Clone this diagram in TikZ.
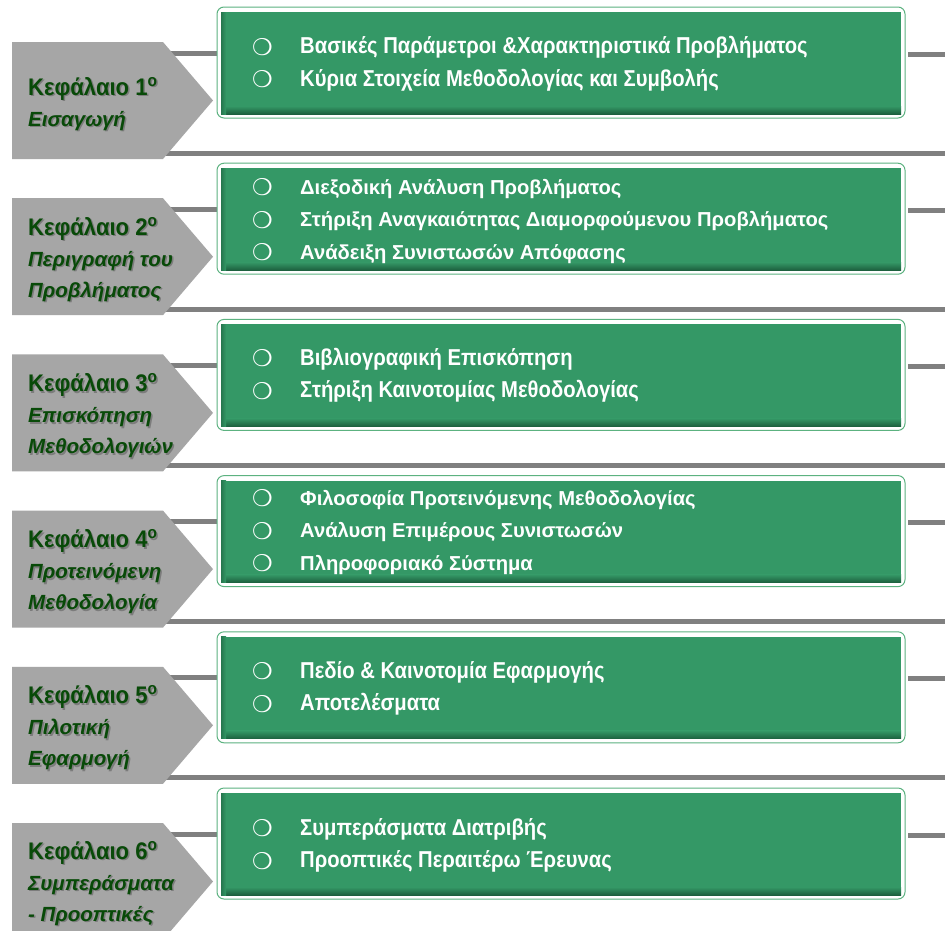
\documentclass[tikz,border=0pt]{standalone}
\usepackage{fontspec}
\setmainfont{Liberation Sans}
\newfontfamily\symfont{DejaVu Sans}
\newfontfamily\narrowfont[FakeStretch=0.88]{Liberation Sans}
\newfontfamily\headfont[FakeStretch=0.92]{Liberation Sans}
\usetikzlibrary{calc}

\definecolor{boxgreen}{RGB}{52,152,102}
\definecolor{boxdark}{RGB}{28,96,62}
\definecolor{boxrim}{RGB}{92,178,128}
\definecolor{tabgrey}{RGB}{166,166,166}
\definecolor{linegrey}{RGB}{128,128,128}
\definecolor{titlegreen}{RGB}{8,74,8}

\tikzset{
  rule/.style={draw=linegrey, line width=5pt},
  tab/.style={fill=tabgrey, draw=none},
  chaptext/.style={anchor=west, inner sep=0pt, text=titlegreen},
  chapshadow/.style={anchor=west, inner sep=0pt, text=black, opacity=0.25},
  itemtext/.style={anchor=west, inner sep=0pt, text=white},
}

% bullet followed by its gap
\newcommand\bul{\makebox[48pt][l]{\raisebox{-1.5pt}{\symfont\fontsize{23}{23}\selectfont ❍}}}
% chapter heading: number line, then the subtitle lines in italics
\newcommand\chaphead[2]{%
  \fontsize{20.5}{31}\selectfont\bfseries\itshape
  \begin{tabular}{@{}l@{}}
  \headfont\fontsize{24}{31}\selectfont\bfseries\upshape Κεφάλαιο #1\textsuperscript{ο}\\
  #2
  \end{tabular}}
% heading drawn twice, a faint offset copy underneath as its shadow
\newcommand\chapnode[4]{%
  \node[chapshadow] at (29.5,#2+1.5) {\chaphead{#3}{#4}};
  \node[chaptext] (#1) at (28,#2) {\chaphead{#3}{#4}};}
\newcommand\itemfont{\fontsize{20.2}{32.5}\selectfont\bfseries}
\newcommand\tallfont{\fontsize{23}{32.5}\selectfont\bfseries\narrowfont}

\begin{document}
\begin{tikzpicture}[x=1pt,y=-1pt]
\useasboundingbox (0,0) rectangle (945,930);
\fill[white] (0,0) rectangle (945,930);

% rows: grey tab, connecting rules and the green panel
\foreach \k in {0,...,5}{
  \pgfmathsetmacro\oy{156.2*\k}
  \begin{scope}[yshift=-\oy pt]
    % long rule below the row
    \draw[rule] (150,153) -- (945,153);
    % short rules either side of the panel
    \draw[rule] (150,53) -- (218,53);
    \draw[rule] (908,54) -- (945,54);
    % tab arrow
    \fill[tab] (12,42) -- (163,42) -- (213,100.5) -- (163,159) -- (12,159) -- cycle;
    % panel: rim, white margin, green face with darker lower edge
    \draw[boxrim, fill=white, line width=1pt, rounded corners=7pt] (217,7) rectangle (905,118);
    \fill[boxgreen] (221,12) rectangle (901,114);
    \shade[top color=boxgreen, bottom color=boxdark] (221,106) rectangle (901,114);
    \shade[left color=boxdark!60!boxgreen, right color=boxgreen] (221,12) rectangle (226,114);
  \end{scope}
}

% chapter headings
\chapnode{chap1}{104.5}{1}{Εισαγωγή}
\chapnode{chap2}{260}{2}{Περιγραφή του\\Προβλήματος}
\chapnode{chap3}{416.5}{3}{Επισκόπηση\\Μεθοδολογιών}
\chapnode{chap4}{572.5}{4}{Προτεινόμενη\\Μεθοδολογία}
\chapnode{chap5}{728.5}{5}{Πιλοτική\\Εφαρμογή}
\chapnode{chap6}{884}{6}{Συμπεράσματα\\- Προοπτικές}

% panel contents
\node[itemtext] (items1) at (252,63.5) {\tallfont
  \begin{tabular}{@{}l@{}}
  \bul Βασικές Παράμετροι \&Χαρακτηριστικά Προβλήματος\\
  \bul Κύρια Στοιχεία Μεθοδολογίας και Συμβολής
  \end{tabular}};
\node[itemtext] (items2) at (252,220) {\itemfont
  \begin{tabular}{@{}l@{}}
  \bul Διεξοδική Ανάλυση Προβλήματος\\
  \bul Στήριξη Αναγκαιότητας Διαμορφούμενου Προβλήματος\\
  \bul Ανάδειξη Συνιστωσών Απόφασης
  \end{tabular}};
\node[itemtext] (items3) at (252,375) {\tallfont
  \begin{tabular}{@{}l@{}}
  \bul Βιβλιογραφική Επισκόπηση\\
  \bul Στήριξη Καινοτομίας Μεθοδολογίας
  \end{tabular}};
\node[itemtext] (items4) at (252,531) {\itemfont
  \begin{tabular}{@{}l@{}}
  \bul Φιλοσοφία Προτεινόμενης Μεθοδολογίας\\
  \bul Ανάλυση Επιμέρους Συνιστωσών\\
  \bul Πληροφοριακό Σύστημα
  \end{tabular}};
\node[itemtext] (items5) at (252,688) {\tallfont
  \begin{tabular}{@{}l@{}}
  \bul Πεδίο \& Καινοτομία Εφαρμογής\\
  \bul Αποτελέσματα
  \end{tabular}};
\node[itemtext] (items6) at (252,845) {\tallfont
  \begin{tabular}{@{}l@{}}
  \bul Συμπεράσματα Διατριβής\\
  \bul Προοπτικές Περαιτέρω Έρευνας
  \end{tabular}};
\end{tikzpicture}
\end{document}
